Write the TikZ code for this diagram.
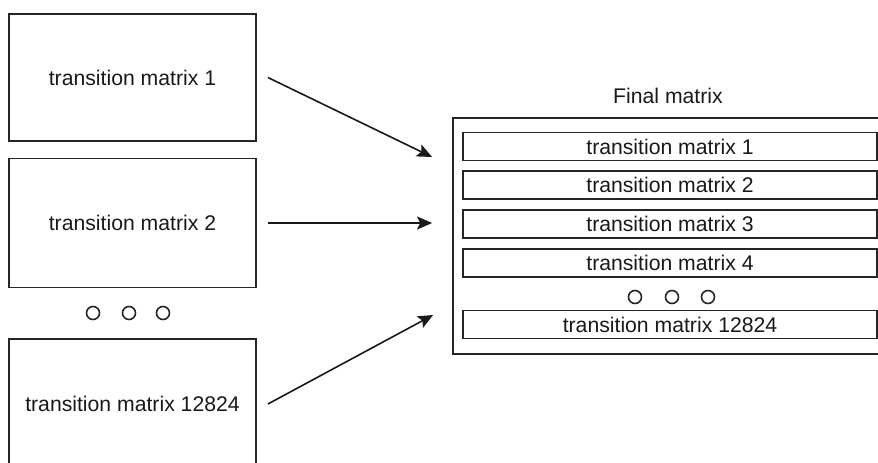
\documentclass[tikz,border=0pt]{standalone}
\usepackage{fontspec}
\setmainfont{Liberation Sans}
\usetikzlibrary{arrows.meta}
\begin{document}
\begin{tikzpicture}[x=1pt,y=-1pt,
  every node/.style={font=\fontsize{21.2}{25}\selectfont, text=black!90},
  line/.style={draw=black!85, line width=1.8pt},
  bigbox/.style={line, minimum width=247pt, inner sep=0pt},
  rowbox/.style={line, minimum width=414pt, minimum height=28pt, inner sep=0pt},
  dot/.style={draw=black!85, circle, line width=1.6pt, minimum size=13pt, inner sep=0pt},
  arr/.style={draw=black!90, line width=1.6pt, -{Stealth[length=15pt,width=13pt,inset=3pt]}}]
\useasboundingbox (0,0) rectangle (878,463);
\clip (0,0) rectangle (878,463);

% source matrices
\node[bigbox, minimum height=127pt] (m1) at (132.5,77.5) {transition matrix 1};
\node[bigbox, minimum height=129pt] (m2) at (132.5,223) {transition matrix 2};
\node[bigbox, minimum height=130pt] (mn) at (132.5,404) {transition matrix 12824};
\node[dot] (d1) at (93,313) {};
\node[dot] (d2) at (129,313) {};
\node[dot] (d3) at (163,313) {};

% combined matrix
\node (title) at (668,96) {Final matrix};
\node[line, minimum width=434pt, minimum height=236pt, inner sep=0pt] (fm) at (670,236) {};
\node[rowbox] (r1) at (670,146.5) {transition matrix 1};
\node[rowbox] (r2) at (670,185) {transition matrix 2};
\node[rowbox] (r3) at (670,224) {transition matrix 3};
\node[rowbox] (r4) at (670,263) {transition matrix 4};
\node[dot] (e1) at (635,297) {};
\node[dot] (e2) at (672,297) {};
\node[dot] (e3) at (708,297) {};
\node[rowbox] (r5) at (670,324.5) {transition matrix 12824};

% arrow tips in front of the combined matrix
\coordinate (t1) at ([xshift=-20pt]fm.west |- 0,157);
\coordinate (t2) at ([xshift=-20pt]fm.west |- m2.east);
\coordinate (t3) at ([xshift=-19pt]fm.west |- 0,315);

\draw[arr] ([xshift=11pt]m1.east) -- (t1);
\draw[arr] ([xshift=11pt]m2.east) -- (t2);
\draw[arr] ([xshift=11pt]mn.east) -- (t3);
\end{tikzpicture}
\end{document}
